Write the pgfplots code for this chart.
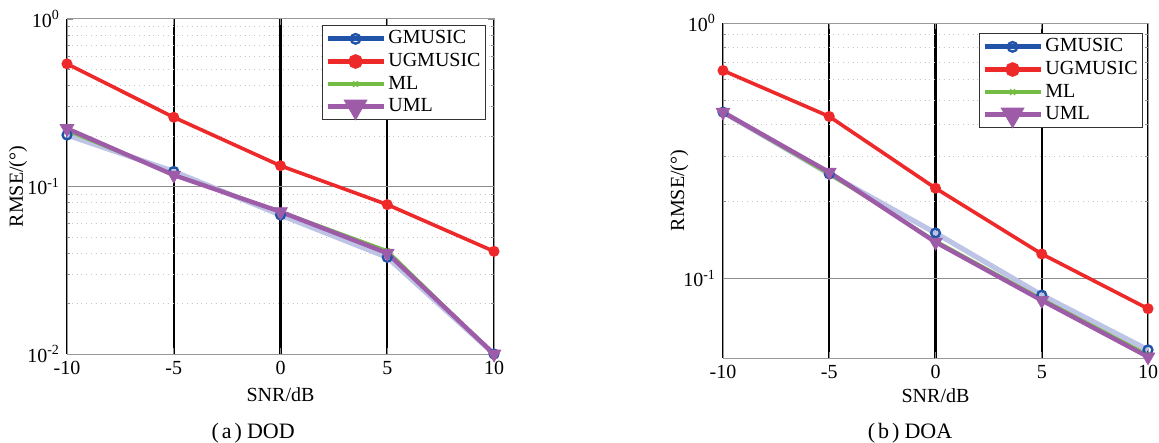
\documentclass[border=0pt]{standalone}
\usepackage{pgfplots}
\pgfplotsset{compat=1.18}
\usepackage{fontspec}
\setmainfont{Liberation Serif}

\definecolor{gblue}{rgb}{0.13,0.33,0.66}
\definecolor{gpale}{rgb}{0.74,0.77,0.90}
\definecolor{ured}{rgb}{0.93,0.16,0.16}
\definecolor{mlgreen}{rgb}{0.45,0.74,0.27}
\definecolor{umlpurple}{rgb}{0.62,0.36,0.66}

% RMSE versus SNR, DOD estimation
\pgfplotstableread{
snr gmusic ugmusic ml uml
-10 0.203  0.540 0.215  0.222
-5  0.123  0.259 0.118  0.117
0   0.0676 0.133 0.0710 0.0707
5   0.0378 0.078 0.0415 0.0400
10  0.0100 0.041 0.0100 0.0100
}\doddata

% RMSE versus SNR, DOA estimation
\pgfplotstableread{
snr gmusic ugmusic ml uml
-10 0.448  0.652 0.446  0.448
-5  0.257  0.431 0.256  0.261
0   0.151  0.226 0.141  0.139
5   0.0863 0.125 0.0835 0.0823
10  0.0527 0.0764 0.0505 0.0495
}\doadata

\pgfplotsset{
  legend image code/.code={
    \draw[mark repeat=2,mark phase=2,#1] plot coordinates {(0pt,0pt) (14pt,0pt) (28pt,0pt)};},
  every axis/.append style={
    scale only axis,
    height=167.5pt,
    xmin=-10, xmax=10,
    xtick={-10,-5,0,5,10},
    xticklabels={-10,-5,0,5,10},
    clip=false,
    axis line style={draw=black!40, line width=0.5pt},
    tick style={draw=black!45, line width=0.4pt},
    major tick length=3pt, minor tick length=1.6pt,
    tick align=inside,
    xmajorgrids, ymajorgrids, yminorgrids,
    x grid style={draw=black, line width=1.2pt},
    major grid style={draw=black!45, line width=0.5pt},
    minor grid style={draw=black!22, line width=0.4pt, dotted},
    tick label style={font=\fontsize{10}{12}\selectfont},
    label style={font=\fontsize{10}{12}\selectfont},
    legend style={draw=black!80, line width=0.5pt, fill=white,
      font=\fontsize{10}{11.6}\selectfont,
      inner xsep=1.2pt, inner ysep=0.6pt, row sep=-0.8pt,
      nodes={inner xsep=1.2pt},
      cells={anchor=west}},
  },
}

\tikzset{
  gline/.style={gpale, line width=2.6pt, mark=none},
  gmark/.style={mark=o, mark size=2.2pt, mark options={draw=gblue, line width=1.2pt}},
  uline/.style={ured, line width=1.8pt, mark=*, mark size=1.8pt, mark options={fill=ured, draw=ured}},
  mline/.style={mlgreen, line width=1.4pt, mark=x, mark size=1.5pt, mark options={draw=mlgreen, line width=0.9pt}},
  pline/.style={umlpurple, line width=2.2pt, mark=triangle*, mark size=4pt, mark options={fill=umlpurple, draw=umlpurple, rotate=180, line width=0.3pt}},
}

\begin{document}
\begin{tikzpicture}
\path[use as bounding box] (0,0) rectangle (579.5pt,221.5pt);

% (a) DOD
\begin{axis}[
  ymode=log,
  at={(33.5pt,44.5pt)}, anchor=south west,
  width=213.5pt,
  ymin=0.01, ymax=1,
  ytick={0.01,0.1,1},
  yticklabels={10\textsuperscript{-2},10\textsuperscript{-1},10\textsuperscript{0}},
  ylabel={RMSE/(°)}, xlabel={SNR/dB},
  ylabel style={at={(axis description cs:-0.1148,0.5)}, anchor=center},
  xlabel style={at={(axis description cs:0.5,-0.1224)}, anchor=center},
  legend style={at={(rel axis cs:0.981,0.982)}, anchor=north east},
]
\addlegendimage{gblue, line width=2.4pt, mark=o, mark size=2.4pt, mark options={line width=1.2pt}}
\addlegendentry{GMUSIC}
\addlegendimage{ured, line width=2.4pt, mark=*, mark size=2.4pt}
\addlegendentry{UGMUSIC}
\addlegendimage{mlgreen, line width=2.4pt, mark=x, mark size=1.8pt, mark options={line width=1pt}}
\addlegendentry{ML}
\addlegendimage{umlpurple, line width=2.4pt, mark=triangle*, mark size=4.6pt, mark options={rotate=180}}
\addlegendentry{UML}
\addplot[gline, forget plot] table[x=snr, y=gmusic] {\doddata};
\addplot[gmark, only marks, forget plot] table[x=snr, y=gmusic] {\doddata};
\addplot[uline, forget plot] table[x=snr, y=ugmusic] {\doddata};
\addplot[mline, forget plot] table[x=snr, y=ml] {\doddata};
\addplot[pline, forget plot] table[x=snr, y=uml] {\doddata};
\node[font=\fontsize{11}{13}\selectfont] at (rel axis cs:0.436,0) [yshift=-39.5pt]
  {(\hspace{1.5pt}a\hspace{1.5pt})\hspace{2.5pt}DOD};
\end{axis}

% (b) DOA
\begin{axis}[
  ymode=log,
  at={(361.5pt,42.5pt)}, anchor=south west,
  width=212.5pt,
  ymin=0.049, ymax=1,
  ytick={0.1,1},
  yticklabels={10\textsuperscript{-1},10\textsuperscript{0}},
  ylabel={RMSE/(°)}, xlabel={SNR/dB},
  ylabel style={at={(axis description cs:-0.103,0.5)}, anchor=center},
  xlabel style={at={(axis description cs:0.5,-0.1134)}, anchor=center},
  legend style={at={(rel axis cs:0.988,0.970)}, anchor=north east},
]
\addlegendimage{gblue, line width=2.4pt, mark=o, mark size=2.4pt, mark options={line width=1.2pt}}
\addlegendentry{GMUSIC}
\addlegendimage{ured, line width=2.4pt, mark=*, mark size=2.4pt}
\addlegendentry{UGMUSIC}
\addlegendimage{mlgreen, line width=2.4pt, mark=x, mark size=1.8pt, mark options={line width=1pt}}
\addlegendentry{ML}
\addlegendimage{umlpurple, line width=2.4pt, mark=triangle*, mark size=4.6pt, mark options={rotate=180}}
\addlegendentry{UML}
\addplot[gline, forget plot] table[x=snr, y=gmusic] {\doadata};
\addplot[gmark, only marks, forget plot] table[x=snr, y=gmusic] {\doadata};
\addplot[uline, forget plot] table[x=snr, y=ugmusic] {\doadata};
\addplot[mline, forget plot] table[x=snr, y=ml] {\doadata};
\addplot[pline, forget plot] table[x=snr, y=uml] {\doadata};
\node[font=\fontsize{11}{13}\selectfont] at (rel axis cs:0.440,0) [yshift=-37.5pt]
  {(\hspace{1.5pt}b\hspace{1.5pt})\hspace{2.5pt}DOA};
\end{axis}
\end{tikzpicture}
\end{document}
